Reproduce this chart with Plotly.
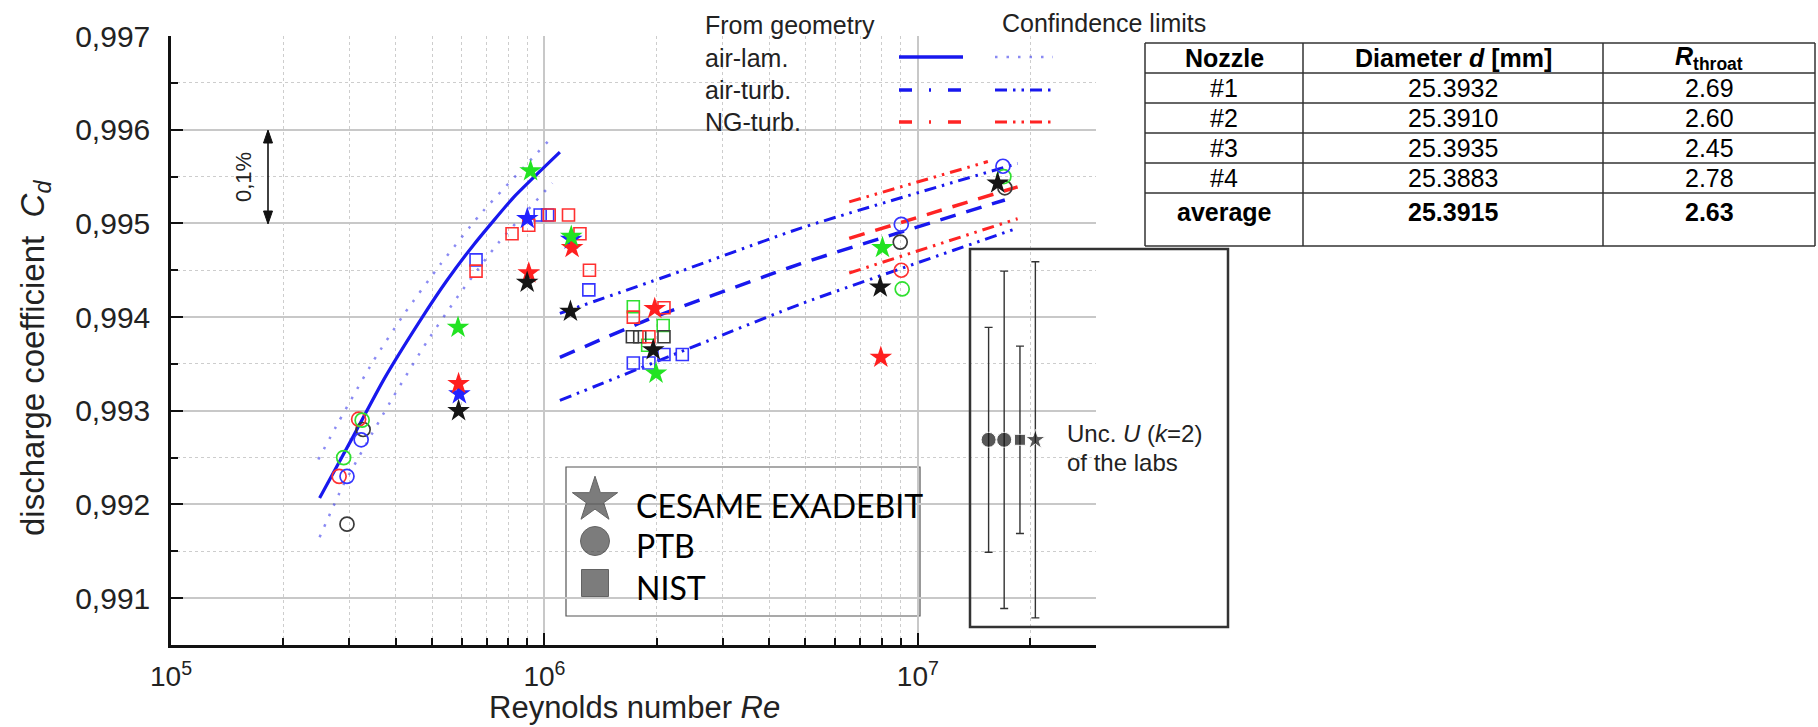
import plotly.graph_objects as go

# ---------------- data ----------------
# "From geometry" curves
lam_Re = [2.50e5, 3.05e5, 3.71e5, 4.66e5, 5.48e5, 6.46e5, 8.28e5, 1.10e6]
lam_Cd = [0.99207, 0.99270, 0.99333, 0.99397, 0.99439, 0.99477, 0.99528, 0.99576]
lam_up_Re = [2.48e5, 2.81e5, 3.48e5, 4.24e5, 5.26e5, 6.71e5, 1.02e6]
lam_up_Cd = [0.99248, 0.99288, 0.99353, 0.99405, 0.99456, 0.99509, 0.99587]
lam_lo_Re = [2.50e5, 2.87e5, 3.24e5, 3.86e5, 4.85e5, 5.96e5, 7.52e5, 1.05e6]
lam_lo_Cd = [0.99165, 0.99218, 0.99256, 0.99309, 0.99374, 0.99426, 0.99479, 0.99543]

air_turb_Re = [1.10e6, 1.97e6, 4.86e6, 1.71e7]
air_turb_Cd = [0.99357, 0.99400, 0.99457, 0.99525]
air_up_Re = [1.10e6, 2.32e6, 4.86e6, 1.85e7]
air_up_Cd = [0.99404, 0.99449, 0.99495, 0.99564]
air_lo_Re = [1.10e6, 2.32e6, 4.86e6, 1.85e7]
air_lo_Cd = [0.99311, 0.99363, 0.99414, 0.99495]

ng_Re = [6.55e6, 1.11e7, 1.85e7]
ng_Cd = [0.99484, 0.99512, 0.99539]
ng_up_Re = [6.55e6, 1.54e7]
ng_up_Cd = [0.99523, 0.99566]
ng_lo_Re = [6.55e6, 1.85e7]
ng_lo_Cd = [0.99447, 0.99505]

# measurements: CESAME EXADEBIT (stars)
cesame_Re = [5.92e5, 9.00e5, 1.18e6,
             5.89e5, 9.08e5, 1.186e6, 1.974e6, 7.96e6,
             5.87e5, 9.18e5, 1.18e6, 1.99e6, 8.04e6,
             5.89e5, 8.99e5, 1.174e6, 1.956e6, 7.93e6, 1.636e7]
cesame_Cd = [0.99318, 0.99505, 0.99483,
             0.99329, 0.99447, 0.99474, 0.99409, 0.99357,
             0.99389, 0.99556, 0.99486, 0.99340, 0.99474,
             0.99300, 0.99437, 0.99406, 0.99365, 0.99432, 0.99543]
cesame_col = ["blue"] * 3 + ["red"] * 5 + ["green"] * 5 + ["black"] * 6

# PTB (open circles)
ptb_Re = [2.96e5, 3.27e5, 8.97e6, 1.71e7,
          2.82e5, 3.18e5, 9.03e6,
          2.90e5, 3.25e5, 9.08e6, 1.70e7,
          2.96e5, 3.23e5, 9.03e6, 1.69e7]
ptb_Cd = [0.99179, 0.99280, 0.99480, 0.99538,
          0.99230, 0.99291, 0.99450,
          0.99250, 0.99290, 0.99430, 0.99550,
          0.99230, 0.99269, 0.99499, 0.99561]
ptb_col = ["black"] * 4 + ["red"] * 3 + ["green"] * 4 + ["blue"] * 4

# NIST (open squares)
nist_Re = [6.56e5, 9.74e5, 1.02e6, 1.315e6, 1.73e6, 1.905e6, 2.09e6, 2.34e6,
           1.73e6, 2.08e6, 1.89e6,
           1.72e6, 1.80e6, 2.09e6,
           6.56e5, 8.19e5, 9.08e5, 1.03e6, 1.16e6, 1.245e6, 1.32e6, 1.73e6, 2.09e6, 1.905e6]
nist_Cd = [0.99461, 0.99509, 0.99509, 0.99429, 0.99351, 0.99351, 0.99360, 0.99360,
           0.99411, 0.99391, 0.99370,
           0.99379, 0.99379, 0.99379,
           0.99449, 0.99489, 0.99498, 0.99509, 0.99509, 0.99489, 0.99450, 0.99400, 0.99410, 0.99379]
nist_col = ["blue"] * 8 + ["green"] * 3 + ["black"] * 3 + ["red"] * 10

# uncertainty U (k=2) of the labs
unc_Re = [1.547e7, 1.703e7, 1.877e7, 2.064e7]
unc_Cd = [0.99269, 0.99269, 0.99269, 0.99269]
unc_U = [0.0012, 0.0018, 0.0010, 0.0019]
unc_sym = ["circle", "circle", "square", "star"]

# axes
x_tickvals = [1e5, 1e6, 1e7]
x_ticktext = ["10<sup>5</sup>", "10<sup>6</sup>", "10<sup>7</sup>"]
x_minor = [k * 10 ** e for e in (5, 6) for k in range(2, 10)] + [2e7]
y_tickvals = [0.991, 0.992, 0.993, 0.994, 0.995, 0.996, 0.997]
y_ticktext = ["0,991", "0,992", "0,993", "0,994", "0,995", "0,996", "0,997"]
y_minor = [0.9915, 0.9925, 0.9935, 0.9945, 0.9955, 0.9965]

# table
tbl_header = ["<b>Nozzle</b>", "<b>Diameter <i>d</i> [mm]</b>", "<b><i>R</i><sub>throat</sub></b>"]
tbl_nozzle = ["#1", "#2", "#3", "#4", "<b>average</b>"]
tbl_diam = ["25.3932", "25.3910", "25.3935", "25.3883", "<b>25.3915</b>"]
tbl_r = ["2.69", "2.60", "2.45", "2.78", "<b>2.63</b>"]

lab_names = ["CESAME EXADEBIT", "PTB", "NIST"]

# ---------------- styling ----------------
COL = {"black": "#151515", "red": "#ff1f1f", "green": "#22e322", "blue": "#2222ff"}
OPEN_COL = {"black": "#3a3a3a", "red": "#ff3030", "green": "#30e030", "blue": "#3535ff"}
BLUE = "#1818ee"
RED = "#ff2424"
FONT = "Liberation Sans, Arial, sans-serif"

W, H = 1818, 727
PL, PR, PT, PB = 171, 1096, 36, 645


def px(x):
    return (x - PL) / (PR - PL)


def py(y):
    return (PB - y) / (PB - PT)


fig = go.Figure()


def add_line(x, y, color, width, dash):
    fig.add_trace(go.Scatter(x=x, y=y, mode="lines",
                             line=dict(color=color, width=width, dash=dash, shape="spline", smoothing=0.5),
                             hoverinfo="skip", showlegend=False))


DOT = "2.5px,9px"
DASH = "16px,11px"
DASHDOT = "12px,6px,2.5px,6px,2.5px,6px"

add_line(lam_up_Re, lam_up_Cd, "rgba(60,60,235,0.6)", 2.5, DOT)
add_line(lam_lo_Re, lam_lo_Cd, "rgba(60,60,235,0.6)", 2.5, DOT)
add_line(lam_Re, lam_Cd, BLUE, 3.2, "solid")
add_line(air_up_Re, air_up_Cd, BLUE, 3, DASHDOT)
add_line(air_lo_Re, air_lo_Cd, BLUE, 3, DASHDOT)
add_line(air_turb_Re, air_turb_Cd, BLUE, 3.5, DASH)
add_line(ng_up_Re, ng_up_Cd, RED, 3, DASHDOT)
add_line(ng_lo_Re, ng_lo_Cd, RED, 3, DASHDOT)
add_line(ng_Re, ng_Cd, RED, 3.5, DASH)

fig.add_trace(go.Scatter(x=nist_Re, y=nist_Cd, mode="markers", showlegend=False, hoverinfo="skip",
                         marker=dict(symbol="square-open", size=12, color=[OPEN_COL[c] for c in nist_col],
                                     line=dict(width=1.6))))
fig.add_trace(go.Scatter(x=ptb_Re, y=ptb_Cd, mode="markers", showlegend=False, hoverinfo="skip",
                         marker=dict(symbol="circle-open", size=14, color=[OPEN_COL[c] for c in ptb_col],
                                     line=dict(width=1.7))))
fig.add_trace(go.Scatter(x=cesame_Re, y=cesame_Cd, mode="markers", showlegend=False, hoverinfo="skip",
                         marker=dict(symbol="star", size=17, color=[COL[c] for c in cesame_col],
                                     line=dict(width=0))))

fig.add_trace(go.Scatter(x=unc_Re, y=unc_Cd, mode="markers", showlegend=False, hoverinfo="skip",
                         marker=dict(symbol=unc_sym, size=[15, 15, 11, 15], color="#111"),
                         error_y=dict(type="data", array=unc_U, color="#333", thickness=1.4, width=4)))

# legend icons for labs (pixel overlay axes)
fig.add_trace(go.Scatter(x=[595, 595, 595], y=[500, 541, 583], mode="markers", xaxis="x2", yaxis="y2",
                         showlegend=False, hoverinfo="skip", cliponaxis=False,
                         marker=dict(symbol=["star", "circle", "square"], size=[34, 29, 27],
                                     color="#454545", line=dict(color="#222", width=1))))

shapes = []
# hide the grid line at the very top of the frame
shapes.append(dict(type="line", xref="paper", yref="paper", x0=px(173), x1=1, y0=1, y1=1,
                   line=dict(color="white", width=3), layer="between"))
# white area behind the curve legend
shapes.append(dict(type="rect", xref="paper", yref="paper", x0=px(657), x1=px(1100), y0=py(158), y1=py(30),
                   fillcolor="white", line=dict(width=0), layer="between"))
# lab legend box
shapes.append(dict(type="rect", xref="paper", yref="paper", x0=px(566), x1=px(920), y0=py(616), y1=py(467),
                   fillcolor="white", line=dict(color="#555", width=1.2), layer="between"))
# uncertainty box
shapes.append(dict(type="rect", xref="paper", yref="paper", x0=px(970), x1=px(1228), y0=py(627), y1=py(249),
                   line=dict(color="#333", width=2.5), layer="above"))

# 0,1 % double arrow: shaft and heads
AX = 268
shapes.append(dict(type="line", xref="paper", yref="y", x0=px(AX), x1=px(AX), y0=0.99502, y1=0.99598,
                   line=dict(color="#111", width=1.6), layer="above"))
for tip, base in ((130, 143), (224, 211)):
    shapes.append(dict(type="path", xref="paper", yref="paper",
                       path="M {a},{b} L {c},{d} L {e},{d} Z".format(a=px(AX), b=py(tip), c=px(AX - 4.5),
                                                                     d=py(base), e=px(AX + 4.5)),
                       fillcolor="#111", line=dict(color="#111", width=1), layer="above"))


# curve legend samples
def lsample(x0, x1, y, color, width, dash):
    shapes.append(dict(type="line", xref="paper", yref="paper", x0=px(x0), x1=px(x1), y0=py(y), y1=py(y),
                       line=dict(color=color, width=width, dash=dash), layer="above"))


lsample(899, 963, 57, BLUE, 3.5, "solid")
lsample(995, 1053, 57, "rgba(60,60,235,0.6)", 2.5, DOT)
lsample(899, 963, 90, BLUE, 3.5, "13px,17px,2px,17px")
lsample(995, 1053, 90, BLUE, 3, DASHDOT)
lsample(899, 963, 122, RED, 3.5, "13px,17px,2px,17px")
lsample(995, 1053, 122, RED, 3, DASHDOT)

# table lines
tx = [1145, 1303, 1603, 1815]
ty = [43, 73, 103, 133, 163, 193, 246]
for yy in ty:
    shapes.append(dict(type="line", xref="paper", yref="paper", x0=px(tx[0]), x1=px(tx[-1]), y0=py(yy), y1=py(yy),
                       line=dict(color="#333", width=1.5), layer="above"))
for xx in tx:
    shapes.append(dict(type="line", xref="paper", yref="paper", x0=px(xx), x1=px(xx), y0=py(ty[0]), y1=py(ty[-1]),
                       line=dict(color="#333", width=1.5), layer="above"))

annotations = []


def ann(text, x, y, size, xanchor="left", family=FONT, color="#222", angle=0):
    annotations.append(dict(text=text, x=px(x), y=py(y), xref="paper", yref="paper", showarrow=False,
                            xanchor=xanchor, yanchor="middle", textangle=angle,
                            font=dict(family=family, size=size, color=color)))


ann("From geometry", 703, 25, 25)
ann("air-lam.", 703, 58, 25)
ann("air-turb.", 703, 90, 25)
ann("NG-turb.", 703, 122, 25)
ann("Confindence limits", 1000, 23, 25)

ann("discharge coefficient  <i>C<sub>d</sub></i>", 35, 358, 33, xanchor="center", angle=-90)
ann("Reynolds number <i>Re</i>", 634, 707, 31, xanchor="center")
ann("0,1%", 243, 177, 22, xanchor="center", angle=-90)

ann("Unc. <i>U</i> (<i>k</i>=2)", 1065, 433, 24)
ann("of the labs", 1065, 462, 24)

for i, name in enumerate(lab_names):
    ann(name, 634, [505, 545, 587][i], 32, family="Lato, Carlito, sans-serif", color="#000")

# table text
col_c = [(tx[i] + tx[i + 1]) / 2 for i in range(3)]
row_c = [58, 88, 118, 148, 178, 212]
for j, t in enumerate(tbl_header):
    ann(t, col_c[j], row_c[0], 25, xanchor="center", color="#000")
for i in range(5):
    ann(tbl_nozzle[i], col_c[0], row_c[i + 1], 25, xanchor="center", color="#000")
    ann(tbl_diam[i], col_c[1], row_c[i + 1], 25, xanchor="center", color="#000")
    ann(tbl_r[i], col_c[2], row_c[i + 1], 25, xanchor="center", color="#000")

fig.update_layout(
    width=W, height=H, autosize=False,
    margin=dict(l=PL, r=W - PR, t=PT, b=H - PB, pad=0),
    paper_bgcolor="white", plot_bgcolor="white",
    showlegend=False,
    shapes=shapes, annotations=annotations,
    xaxis=dict(type="log", range=[5, 7.4771], showline=True, linecolor="#111", linewidth=2.5,
               ticks="inside", ticklen=12, tickwidth=2, tickcolor="#111",
               tickvals=x_tickvals, ticktext=x_ticktext, ticklabelstandoff=5,
               tickfont=dict(family=FONT, size=28, color="#222"),
               showgrid=True, gridcolor="#c8c8c8", gridwidth=1.5, zeroline=False,
               minor=dict(tickvals=x_minor, ticks="inside", ticklen=7, tickwidth=1.5, tickcolor="#111",
                          showgrid=True, gridcolor="#cdcdcd", gridwidth=1, griddash="dot")),
    yaxis=dict(range=[0.9905, 0.997], showline=True, linecolor="#111", linewidth=2.5,
               ticks="inside", ticklen=12, tickwidth=2, tickcolor="#111",
               tickvals=y_tickvals, ticktext=y_ticktext, ticklabelstandoff=12,
               tickfont=dict(family=FONT, size=30, color="#222"),
               showgrid=True, gridcolor="#c8c8c8", gridwidth=1.5, zeroline=False,
               minor=dict(tickvals=y_minor, ticks="inside", ticklen=7, tickwidth=1.5, tickcolor="#111",
                          showgrid=True, gridcolor="#cdcdcd", gridwidth=1, griddash="dot")),
    xaxis2=dict(overlaying="x", range=[PL, PR], visible=False, fixedrange=True),
    yaxis2=dict(overlaying="y", range=[PB, PT], visible=False, fixedrange=True),
)

fig.write_html("out.html")
